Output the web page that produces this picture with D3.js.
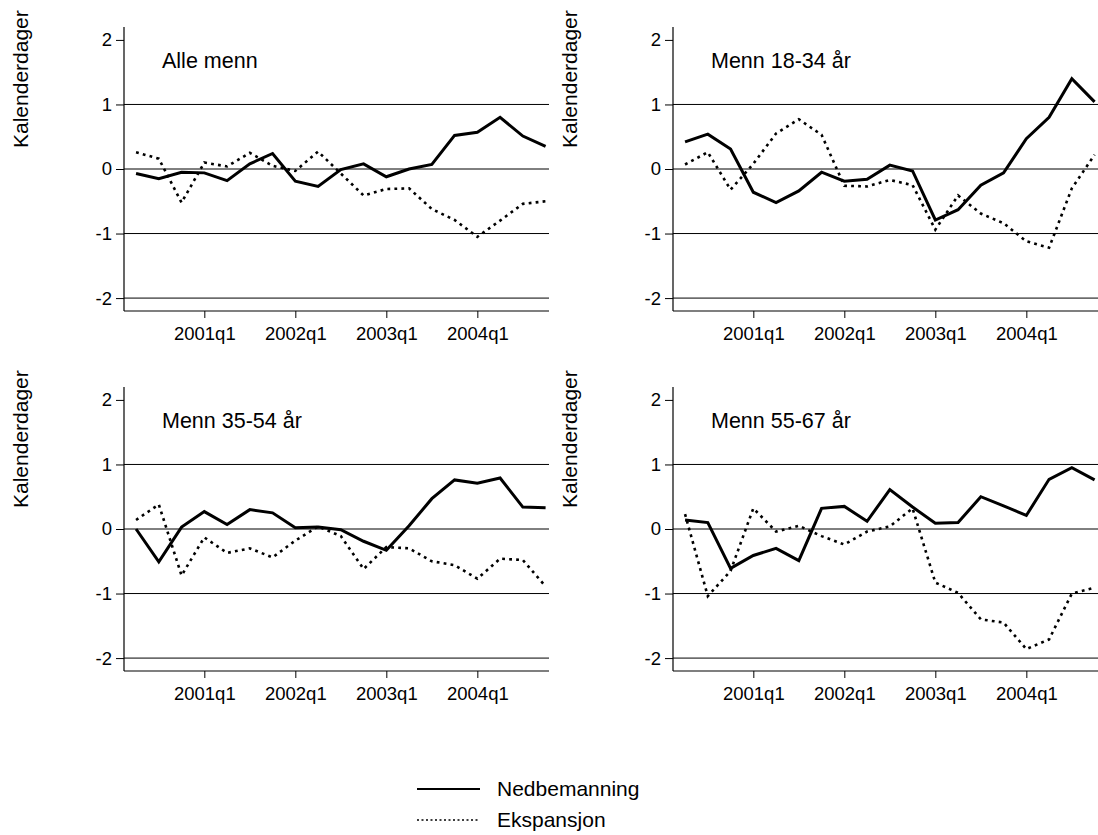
<!DOCTYPE html>
<html>
<head>
<meta charset="utf-8">
<script src="https://cdn.jsdelivr.net/npm/d3@7"></script>
<style>
  body { margin: 0; background: #fff; }
  svg { display: block; font-family: "Liberation Sans", Arial, sans-serif; }
</style>
</head>
<body>
<div class="canvas"></div>
<script>
// quarters 2000q2 .. 2004q4
const quarters = ["2000q2", "2000q3", "2000q4", "2001q1", "2001q2", "2001q3", "2001q4",
  "2002q1", "2002q2", "2002q3", "2002q4", "2003q1", "2003q2", "2003q3", "2003q4",
  "2004q1", "2004q2", "2004q3", "2004q4"];
const xTickLabels = ["2001q1", "2002q1", "2003q1", "2004q1"];
const yTicks = [-2, -1, 0, 1, 2];
const gridValues = [-2, -1, 0, 1];

const panelTitles = ["Alle menn", "Menn 18-34 år", "Menn 35-54 år", "Menn 55-67 år"];
const seriesNames = ["Nedbemanning", "Ekspansjon"];

const nedAlle = [-0.07, -0.15, -0.05, -0.06, -0.18, 0.08, 0.24, -0.19, -0.27, -0.01, 0.08, -0.12, 0.0, 0.07, 0.52, 0.57, 0.80, 0.51, 0.35];
const eksAlle = [0.26, 0.16, -0.52, 0.10, 0.04, 0.25, 0.05, -0.03, 0.27, -0.07, -0.41, -0.31, -0.30, -0.62, -0.79, -1.05, -0.80, -0.54, -0.50];

const ned1834 = [0.42, 0.54, 0.31, -0.36, -0.52, -0.34, -0.05, -0.19, -0.16, 0.06, -0.03, -0.79, -0.63, -0.25, -0.06, 0.47, 0.80, 1.40, 1.04];
const eks1834 = [0.07, 0.26, -0.32, 0.08, 0.55, 0.77, 0.53, -0.26, -0.27, -0.17, -0.25, -0.94, -0.41, -0.69, -0.84, -1.12, -1.22, -0.30, 0.22];

const ned3554 = [0.0, -0.51, 0.03, 0.27, 0.07, 0.30, 0.25, 0.02, 0.03, -0.01, -0.19, -0.33, 0.05, 0.47, 0.76, 0.71, 0.79, 0.34, 0.33];
const eks3554 = [0.14, 0.38, -0.72, -0.13, -0.37, -0.30, -0.44, -0.18, 0.04, -0.11, -0.62, -0.28, -0.30, -0.50, -0.56, -0.77, -0.46, -0.48, -0.89];

const ned5567 = [0.14, 0.10, -0.61, -0.41, -0.30, -0.49, 0.32, 0.35, 0.12, 0.61, 0.34, 0.09, 0.10, 0.50, 0.36, 0.21, 0.77, 0.95, 0.76];
const eks5567 = [0.23, -1.04, -0.65, 0.32, -0.04, 0.05, -0.11, -0.24, -0.04, 0.04, 0.32, -0.83, -0.99, -1.40, -1.45, -1.86, -1.71, -1.00, -0.91];

const panels = [
  { title: panelTitles[0], ned: nedAlle, eks: eksAlle },
  { title: panelTitles[1], ned: ned1834, eks: eks1834 },
  { title: panelTitles[2], ned: ned3554, eks: eks3554 },
  { title: panelTitles[3], ned: ned5567, eks: eks5567 }
];

const width = 1098;
const height = 835;

const svg = d3
  .select(".canvas")
  .append("svg")
  .attr("width", width)
  .attr("height", height);

// plot area of one panel
const plotW = 425;
const plotH = 284;
const colX = [124, 673];
const rowY = [27, 387];

const xScale = d3.scaleLinear().domain([-0.53, 18.15]).range([0, plotW]);
const yScale = d3.scaleLinear().domain([-2.2, 2.2]).range([plotH, 0]);

const line = d3
  .line()
  .x((d, i) => xScale(i))
  .y((d) => yScale(d));

panels.forEach((p, k) => {
  const g = svg
    .append("g")
    .attr("transform", `translate(${colX[k % 2]},${rowY[Math.floor(k / 2)]})`);

  // grid lines
  g.selectAll(".grid")
    .data(gridValues)
    .enter()
    .append("line")
    .attr("x1", 0)
    .attr("x2", plotW)
    .attr("y1", (d) => yScale(d))
    .attr("y2", (d) => yScale(d))
    .attr("stroke", "#000")
    .attr("stroke-width", 1);

  // y axis (plain hyphen as minus, like the original)
  const yAxis = g
    .append("g")
    .call(d3.axisLeft(yScale).tickValues(yTicks).tickSize(8).tickPadding(4).tickFormat((d) => String(d)));
  yAxis.select(".domain").attr("d", `M0,0V${plotH}`).attr("stroke-width", 1.2);
  yAxis.selectAll("text").attr("font-size", 18.5).attr("fill", "#000");

  // x axis
  const xAxis = g
    .append("g")
    .attr("transform", `translate(0,${plotH})`)
    .call(
      d3
        .axisBottom(xScale)
        .tickValues(xTickLabels.map((q) => quarters.indexOf(q)))
        .tickSize(7)
        .tickPadding(9)
        .tickFormat((d) => quarters[d])
    );
  xAxis.select(".domain").attr("d", `M0,0H${plotW}`).attr("stroke-width", 1.2);
  xAxis.selectAll("text").attr("font-size", 18.5).attr("fill", "#000");

  // y title
  g.append("text")
    .attr("transform", `translate(${28 - 124},${121}) rotate(-90)`)
    .attr("text-anchor", "start")
    .attr("font-size", 21)
    .attr("fill", "#000")
    .text("Kalenderdager");

  // panel title
  g.append("text")
    .attr("x", 38)
    .attr("y", 41)
    .attr("font-size", 21.5)
    .attr("fill", "#000")
    .text(p.title);

  // series
  g.append("path")
    .datum(p.eks)
    .attr("d", line)
    .attr("fill", "none")
    .attr("stroke", "#000")
    .attr("stroke-width", 2.6)
    .attr("stroke-dasharray", "2.8,4.2");

  g.append("path")
    .datum(p.ned)
    .attr("d", line)
    .attr("fill", "none")
    .attr("stroke", "#000")
    .attr("stroke-width", 3)
    .attr("stroke-linejoin", "miter");
});

// legend
const legend = svg.append("g").attr("transform", "translate(417,789)");
const legendRows = legend
  .selectAll("g")
  .data(seriesNames)
  .enter()
  .append("g")
  .attr("transform", (d, i) => `translate(0,${i * 31})`);

legendRows
  .append("line")
  .attr("x1", 0)
  .attr("x2", 63)
  .attr("y1", 0)
  .attr("y2", 0)
  .attr("stroke", "#000")
  .attr("stroke-width", (d, i) => (i === 0 ? 2 : 1.4))
  .attr("stroke-dasharray", (d, i) => (i === 0 ? null : "2,2.5"));

legendRows
  .append("text")
  .attr("x", 80)
  .attr("y", 7)
  .attr("font-size", 21)
  .attr("fill", "#000")
  .text((d) => d);
</script>
</body>
</html>
